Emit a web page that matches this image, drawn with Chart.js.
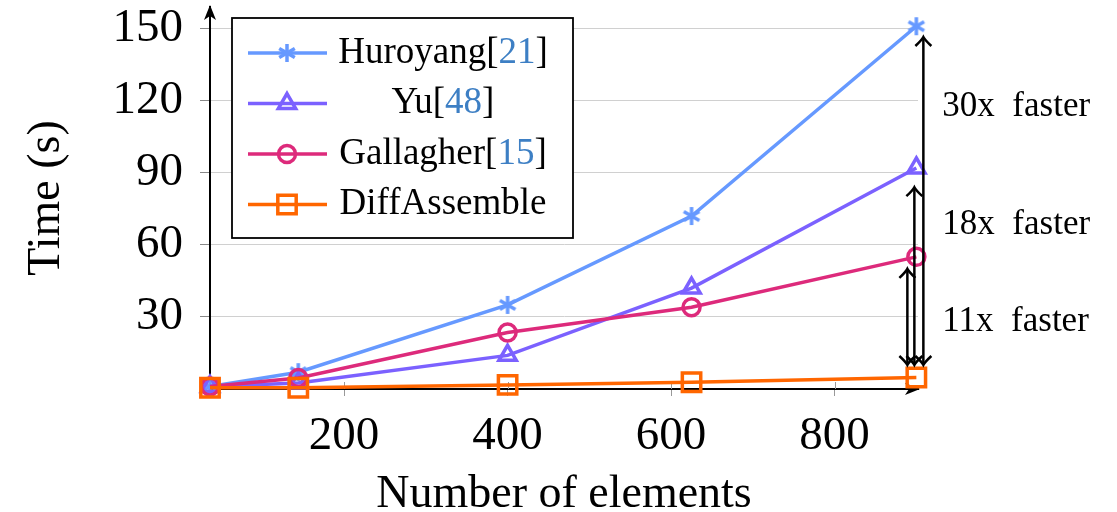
<!DOCTYPE html>
<html>
<head>
<meta charset="utf-8">
<script src="https://cdn.jsdelivr.net/npm/chart.js@4.4.1/dist/chart.umd.min.js"></script>
<style>
  html, body { margin: 0; padding: 0; background: #fff; }
  #wrap { width: 1117px; height: 512px; position: relative; }
</style>
</head>
<body>
<div id="wrap"><canvas id="timing-chart"></canvas></div>
<script>
// values
const elementCounts = [36, 144, 400, 625, 900];
const huroyangTimes = [1, 7, 35, 72, 151];
const yuTimes = [1, 2.5, 14, 42, 92];
const gallagherTimes = [1, 4.6, 23.5, 34, 55];
const diffAssembleTimes = [0.5, 0.5, 1.7, 2.8, 4.8];

const seriesNames = ['Huroyang', 'Yu', 'Gallagher', 'DiffAssemble'];
const seriesRefs = ['21', '48', '15', null];
const xTicks = [200, 400, 600, 800];
const yTicks = [30, 60, 90, 120, 150];

// speed-up annotations at the last x value (data units)
const speedupLabels = ['30x  faster', '18x  faster', '11x  faster'];
const speedupArrowTop = [146.5, 84, 50];
const speedupArrowBottom = [10, 10, 10];
const speedupLabelY = [117.5, 68.5, 27.8];

const FONT = "'Liberation Serif', 'Times New Roman', serif";
const COLORS = ['#6699ff', '#7b61ff', '#dd2a7b', '#ff6600'];

function makeAsterisk(color, r, lw) {
  const size = Math.ceil(2 * r + lw + 2);
  const c = document.createElement('canvas');
  c.width = size; c.height = size;
  const g = c.getContext('2d');
  g.strokeStyle = color;
  g.lineWidth = lw;
  const m = size / 2;
  for (let k = 0; k < 3; k++) {
    const a = Math.PI / 2 + k * Math.PI / 3;
    g.beginPath();
    g.moveTo(m + r * Math.cos(a), m - r * Math.sin(a));
    g.lineTo(m - r * Math.cos(a), m + r * Math.sin(a));
    g.stroke();
  }
  return c;
}

function toPoints(values) {
  return elementCounts.map((x, i) => ({ x: x, y: values[i] }));
}

const markers = [
  { style: makeAsterisk(COLORS[0], 9, 3.5), radius: 9 },
  { style: 'triangle', radius: 10 },
  { style: 'circle', radius: 8.5 },
  { style: 'rect', radius: 13 }
];
const seriesValues = [huroyangTimes, yuTimes, gallagherTimes, diffAssembleTimes];

const datasets = seriesValues.map((vals, i) => ({
  label: seriesNames[i],
  data: toPoints(vals),
  borderColor: COLORS[i],
  backgroundColor: 'transparent',
  borderWidth: 3.5,
  pointStyle: markers[i].style,
  pointRadius: markers[i].radius,
  pointBorderWidth: 3.5,
  pointBorderColor: COLORS[i],
  pointBackgroundColor: 'transparent',
  tension: 0,
  clip: false,
  order: 4 - i
}));

// open "to" style arrow head, tip at (x, y), dir = -1 up, +1 down
function arrowHead(ctx, x, y, dir) {
  ctx.beginPath();
  ctx.moveTo(x - 8, y - dir * 9);
  ctx.quadraticCurveTo(x - 1.5, y - dir * 3, x, y);
  ctx.quadraticCurveTo(x + 1.5, y - dir * 3, x + 8, y - dir * 9);
  ctx.stroke();
}

const axisArrows = {
  id: 'axisArrows',
  beforeDatasetsDraw(chart) {
    const { ctx, chartArea: a, scales: { x } } = chart;
    ctx.save();
    // inner halves of the x tick marks
    ctx.strokeStyle = '#999';
    ctx.lineWidth = 1;
    xTicks.forEach(v => {
      const px = Math.round(x.getPixelForValue(v)) + 0.5;
      ctx.beginPath();
      ctx.moveTo(px, a.bottom);
      ctx.lineTo(px, a.bottom - 7);
      ctx.stroke();
    });
    ctx.fillStyle = '#000';
    ctx.beginPath();
    ctx.moveTo(a.left, a.top - 2);
    ctx.lineTo(a.left - 6, a.top + 13);
    ctx.lineTo(a.left, a.top + 9);
    ctx.lineTo(a.left + 6, a.top + 13);
    ctx.closePath();
    ctx.fill();
    ctx.beginPath();
    ctx.moveTo(a.right + 2, a.bottom);
    ctx.lineTo(a.right - 13, a.bottom - 6);
    ctx.lineTo(a.right - 9, a.bottom);
    ctx.lineTo(a.right - 13, a.bottom + 6);
    ctx.closePath();
    ctx.fill();
    ctx.restore();
  }
};

const speedupArrows = {
  id: 'speedupArrows',
  afterDatasetsDraw(chart) {
    const { ctx, scales: { x, y } } = chart;
    const xLast = x.getPixelForValue(elementCounts[elementCounts.length - 1]);
    const shifts = [7, -2, -9];
    ctx.save();
    ctx.strokeStyle = '#000';
    ctx.lineWidth = 2.5;
    speedupLabels.forEach((label, i) => {
      const ax = xLast + shifts[i];
      const top = y.getPixelForValue(speedupArrowTop[i]);
      const bot = y.getPixelForValue(speedupArrowBottom[i]);
      ctx.beginPath();
      ctx.moveTo(ax, top + 1);
      ctx.lineTo(ax, bot - 1);
      ctx.stroke();
      arrowHead(ctx, ax, top, -1);
      arrowHead(ctx, ax, bot, 1);
      ctx.fillStyle = '#000';
      ctx.font = '35px ' + FONT;
      ctx.textAlign = 'left';
      ctx.textBaseline = 'middle';
      ctx.fillText(label, xLast + 26, y.getPixelForValue(speedupLabelY[i]));
    });
    ctx.restore();
  }
};

const legendBox = {
  id: 'legendBox',
  afterDraw(chart) {
    const ctx = chart.ctx;
    const x0 = 232, y0 = 18, w = 341, h = 220;
    ctx.save();
    ctx.fillStyle = '#fff';
    ctx.fillRect(x0, y0, w, h);
    ctx.strokeStyle = '#000';
    ctx.lineWidth = 1.8;
    ctx.strokeRect(x0, y0, w, h);
    chart.data.datasets.forEach((ds, i) => {
      const ly = y0 + 35 + i * 50.5;
      ctx.strokeStyle = ds.borderColor;
      ctx.lineWidth = 3.5;
      ctx.beginPath();
      ctx.moveTo(248, ly);
      ctx.lineTo(327, ly);
      ctx.stroke();
      ctx.fillStyle = 'transparent';
      Chart.helpers.drawPoint(ctx, {
        pointStyle: ds.pointStyle, radius: ds.pointRadius,
        borderWidth: ds.pointBorderWidth, rotation: 0
      }, 287, ly);

      ctx.font = '37px ' + FONT;
      ctx.textBaseline = 'middle';
      ctx.textAlign = 'left';
      const ref = seriesRefs[i];
      const parts = ref ? [[seriesNames[i] + '[', '#000'], [ref, '#3d7fc4'], [']', '#000']]
                        : [[seriesNames[i], '#000']];
      const total = parts.reduce((s, p) => s + ctx.measureText(p[0]).width, 0);
      let tx = 443 - total / 2;
      parts.forEach(p => {
        ctx.fillStyle = p[1];
        ctx.fillText(p[0], tx, ly);
        tx += ctx.measureText(p[0]).width;
      });
    });
    ctx.restore();
  }
};

new Chart(document.getElementById('timing-chart'), {
  type: 'line',
  data: { datasets: datasets },
  options: {
    responsive: true,
    maintainAspectRatio: false,
    animation: false,
    layout: { autoPadding: false, padding: { top: 7, right: 199, bottom: 0, left: 0 } },
    plugins: { legend: { display: false }, tooltip: { enabled: false } },
    scales: {
      x: {
        type: 'linear',
        min: 36,
        max: 902,
        afterBuildTicks: s => { s.ticks = xTicks.map(v => ({ value: v })); },
        afterFit: s => { s.height = 123; s.paddingLeft = 0; s.paddingRight = 0; },
        grid: { drawOnChartArea: false, tickLength: 7, tickColor: '#999' },
        border: { display: true, color: '#000', width: 2 },
        ticks: { color: '#000', padding: 17, maxRotation: 0, autoSkip: false,
                 font: { family: FONT, size: 47, lineHeight: 1 } },
        title: { display: true, text: 'Number of elements', color: '#000', padding: 0,
                 font: { family: FONT, size: 46, lineHeight: 0.76 } }
      },
      y: {
        min: 0,
        max: 159,
        afterBuildTicks: s => { s.ticks = yTicks.map(v => ({ value: v })); },
        afterFit: s => { s.width = 210; s.paddingTop = 0; s.paddingBottom = 0; },
        grid: { color: '#d0d0d0', tickColor: '#888', tickLength: 10 },
        border: { display: true, color: '#000', width: 2 },
        ticks: { color: '#000', padding: 17, font: { family: FONT, size: 47, lineHeight: 1 } },
        title: { display: true, text: 'Time (s)', color: '#000', padding: { top: 24, bottom: 0 },
                 font: { family: FONT, size: 46, lineHeight: 1 } }
      }
    }
  },
  plugins: [axisArrows, speedupArrows, legendBox]
});
</script>
</body>
</html>
